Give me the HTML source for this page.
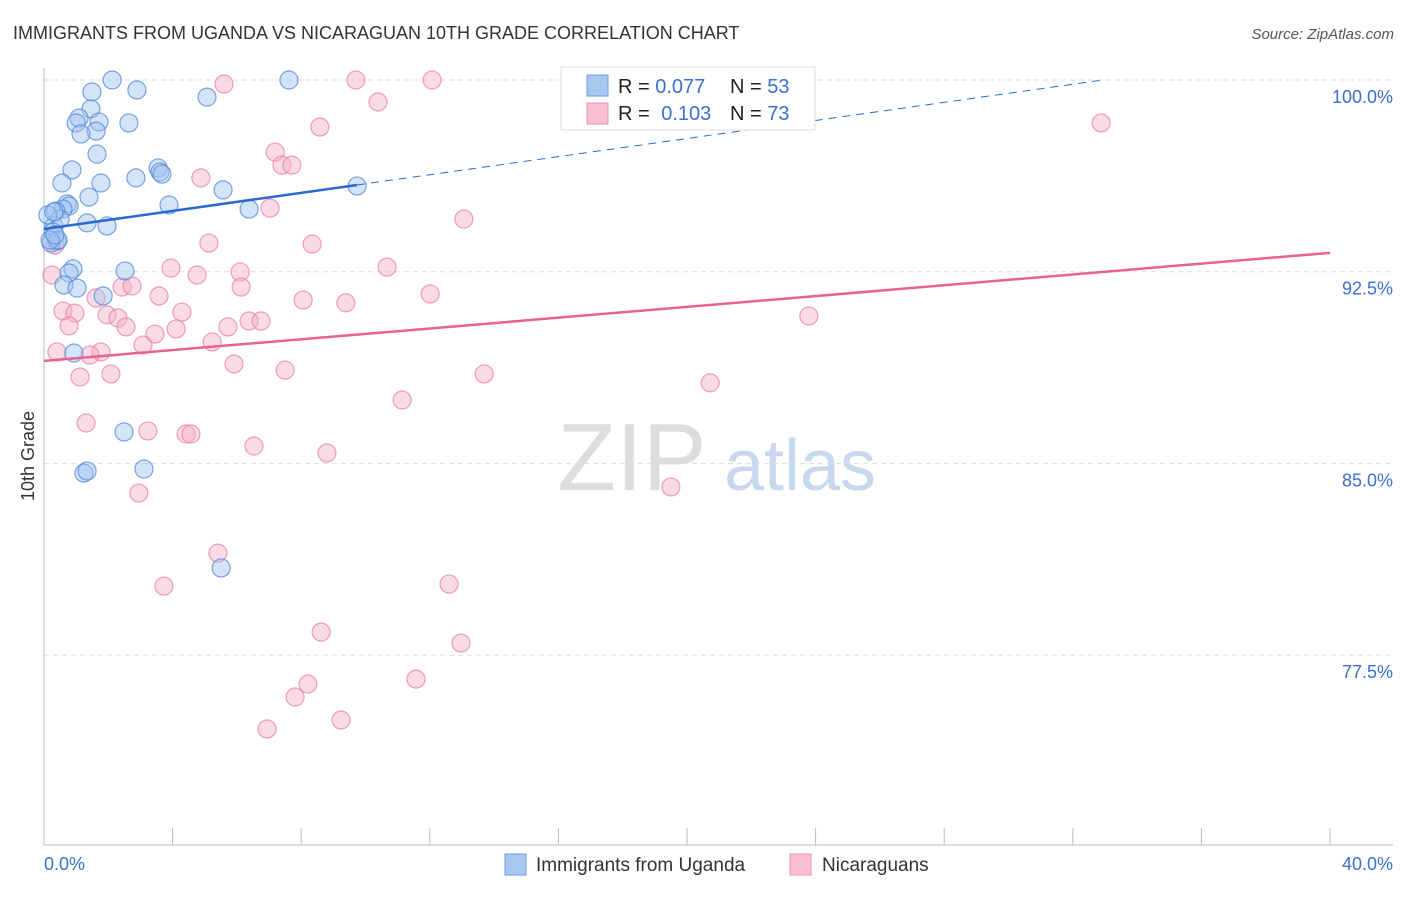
<!DOCTYPE html>
<html><head><meta charset="utf-8"><style>
body{margin:0;background:#fff;font-family:"Liberation Sans",sans-serif;}
svg text{font-family:"Liberation Sans",sans-serif;}
</style></head><body>
<svg id="chart" width="1406" height="892" xmlns="http://www.w3.org/2000/svg">
<text x="13" y="39" font-size="18" fill="#333">IMMIGRANTS FROM UGANDA VS NICARAGUAN 10TH GRADE CORRELATION CHART</text>
<text x="1394" y="39" font-size="15" fill="#555" text-anchor="end" font-style="italic">Source: ZipAtlas.com</text>
<g>
<text x="632" y="490" font-size="96" fill="#ddd" font-family="Liberation Serif" text-anchor="middle">ZIP</text>
<text x="800" y="490" font-size="72" fill="#c8d8ee" text-anchor="middle">atlas</text>
</g>
<g id="grid"></g>
<g id="axes"></g>
<g id="marks"></g>
<text transform="translate(34,456) rotate(-90)" font-size="18" fill="#333" text-anchor="middle">10th Grade</text>
<g>
<rect x="561" y="67" width="254" height="63" fill="#fff" stroke="#ddd"/>
<rect x="587" y="75" width="21" height="21" fill="#a8c8f0" stroke="#6a9ee0"/>
<rect x="587" y="103" width="21" height="21" fill="#f8c0d0" stroke="#ea90ae"/>
<text x="618" y="93" font-size="20" fill="#222">R = <tspan fill="#3a70d0">0.077</tspan></text>
<text x="730" y="93" font-size="20" fill="#222">N = <tspan fill="#3a70d0">53</tspan></text>
<text x="618" y="120" font-size="20" fill="#222">R = <tspan fill="#3a70d0" dx="6">0.103</tspan></text>
<text x="730" y="120" font-size="20" fill="#222">N = <tspan fill="#3a70d0">73</tspan></text>
</g>
<g>
<rect x="505" y="854" width="21" height="21" fill="#a8c8f0" stroke="#6a9ee0"/>
<text x="536" y="871" font-size="19" fill="#333">Immigrants from Uganda</text>
<rect x="790" y="854" width="21" height="21" fill="#f8c0d0" stroke="#ea90ae"/>
<text x="822" y="871" font-size="19" fill="#333">Nicaraguans</text>
</g>
</svg>
<script>
const yTicks=[100,92.5,85,77.5];
const yTickLabels=["100.0%","92.5%","85.0%","77.5%"];
const xTickLabels=["0.0%","40.0%"];
const blueX=[2.12,7.62,1.49,2.89,5.07,1.46,1.09,2.64,1.00,1.71,1.62,1.15,1.65,0.87,3.55,3.61,3.67,2.86,0.56,1.77,5.57,1.40,3.89,9.74,0.72,0.78,0.59,0.37,6.38,1.34,1.96,0.31,0.50,0.28,0.40,0.22,0.44,0.90,2.52,0.78,0.62,1.03,1.84,0.93,2.49,3.11,1.24,1.34,5.51,0.19,0.34,0.12,0.31];
const blueY=[100,100,99.53,99.61,99.33,98.87,98.51,98.32,98.32,98.36,98.00,97.89,97.10,96.48,96.56,96.40,96.32,96.17,95.97,95.97,95.70,95.42,95.11,95.85,95.15,95.07,94.95,94.87,94.95,94.41,94.29,94.29,94.56,94.05,93.70,93.62,93.74,92.61,92.53,92.45,91.98,91.86,91.55,89.32,86.23,84.78,84.62,84.70,80.91,93.74,93.94,94.72,94.84];
const pinkX=[5.60,9.70,12.07,21.03,16.89,10.39,8.58,32.88,7.19,7.40,7.71,4.88,7.03,13.06,5.13,8.34,0.34,0.25,3.95,10.67,4.76,6.10,6.13,2.43,2.74,3.58,12.01,8.06,9.39,1.62,0.59,0.96,4.29,1.96,2.30,23.79,2.55,0.78,6.38,6.75,5.72,3.45,4.11,5.23,3.08,1.77,1.43,0.40,5.91,7.50,1.12,2.08,13.69,20.72,11.14,1.31,3.23,4.42,4.57,6.53,8.80,2.95,19.50,5.41,3.73,12.60,8.62,12.97,8.21,7.81,11.57,9.24,6.94];
const pinkY=[99.84,100,100,100,100,99.14,98.16,98.32,97.18,96.67,96.67,96.17,94.99,94.56,93.62,93.58,93.54,92.37,92.64,92.68,92.37,92.49,91.90,91.90,91.94,91.55,91.63,91.39,91.28,91.47,90.96,90.88,90.92,90.81,90.69,90.77,90.34,90.38,90.57,90.57,90.34,90.06,90.26,89.75,89.63,89.36,89.24,89.36,88.89,88.65,88.38,88.50,88.50,88.15,87.48,86.58,86.27,86.15,86.15,85.68,85.41,83.84,84.08,81.49,80.20,80.28,78.40,77.97,76.37,75.86,76.56,74.96,74.61];
const blueTrend=[94.17,0.177];
const pinkTrend=[89.01,0.1057];
const NS="http://www.w3.org/2000/svg";
function xs(v){return 44+v*32.15;}
function ys(v){return 80+(100-v)*25.56;}
function mk(t,a,p){const e=document.createElementNS(NS,t);for(const k in a)e.setAttribute(k,a[k]);p.appendChild(e);return e;}
const grid=document.getElementById('grid'),axes=document.getElementById('axes'),marks=document.getElementById('marks');
yTicks.forEach((t,i)=>{
 const l=mk('line',{x1:44,x2:1393,y1:ys(t),y2:ys(t),stroke:'#ddd','stroke-dasharray':'5,4'},grid);
 
 
 const tx=mk('text',{x:1393,y:ys(t)+23,'font-size':18,fill:'#3a70d0','text-anchor':'end'},axes);
 tx.textContent=yTickLabels[i];
 
 
});
const ax=mk('line',{x1:44,x2:44,y1:68,y2:845,stroke:'#bbb'},axes);


const bx=mk('line',{x1:44,x2:1393,y1:845,y2:845,stroke:'#bbb'},axes);


for(let i=0;i<=10;i++){
 const t=mk('line',{x1:xs(i*4),x2:xs(i*4),y1:828,y2:845,stroke:'#bbb'},axes);
 
 
}
[[0,'start',44],[40,'end',1393]].forEach((d,i)=>{
 const t=mk('text',{x:d[2],y:870,'font-size':18,fill:'#3a70d0','text-anchor':d[1]},axes);
 t.textContent=xTickLabels[i];
 
 
});
function dots(X,Y,fill,stroke,name){
 X.forEach((x,i)=>{
  const c=mk('circle',{cx:xs(x),cy:ys(Y[i]),r:9,fill:fill,'fill-opacity':0.45,stroke:stroke,'stroke-opacity':0.75,'stroke-width':1.2},marks);
  
  
 });
}
dots(pinkX,pinkY,'#f5b0c6','#e8809f','point-nicaraguans');
dots(blueX,blueY,'#a0c4f0','#4f86d8','point-uganda');
const bEnd=9.74;
const bl=mk('line',{x1:xs(0),y1:ys(blueTrend[0]),x2:xs(bEnd),y2:ys(blueTrend[0]+blueTrend[1]*bEnd),stroke:'#2a6ad0','stroke-width':2.5},marks);


const bxEnd=(100-blueTrend[0])/blueTrend[1];
const bd=mk('line',{x1:xs(bEnd),y1:ys(blueTrend[0]+blueTrend[1]*bEnd),x2:xs(bxEnd),y2:ys(100),stroke:'#2a6ad0','stroke-width':1,'stroke-dasharray':'8,6'},marks);


const pl=mk('line',{x1:xs(0),y1:ys(pinkTrend[0]),x2:xs(40),y2:ys(pinkTrend[0]+pinkTrend[1]*40),stroke:'#e8628e','stroke-width':2.5},marks);


</script>
</body></html>
